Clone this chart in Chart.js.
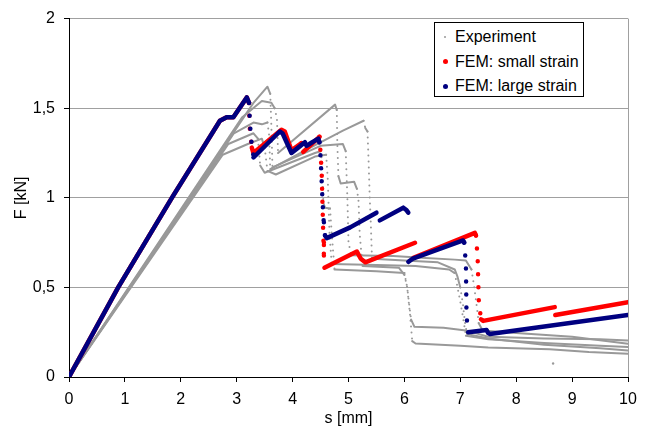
<!DOCTYPE html>
<html>
<head>
<meta charset="utf-8">
<title>F-s curve</title>
<script src="https://cdn.jsdelivr.net/npm/chart.js@4.4.1/dist/chart.umd.min.js"></script>
<style>
  body { margin: 0; background: #fff; font-family: "Liberation Sans", Arial, sans-serif; }
  #wrap { position: relative; width: 648px; height: 430px; }
  #legend { position: absolute; left: 434px; top: 22px; width: 150px; height: 75px; box-sizing: border-box;
            border: 1px solid #000; background: #fff; }
  .item { position: absolute; left: 0; height: 20px; line-height: 20px; font-size: 16px; color: #000; white-space: nowrap; }
  .item .mark { position: absolute; border-radius: 50%; }
  .item .txt { position: absolute; left: 20px; top: 0; }
</style>
</head>
<body>
<div id="wrap">
  <canvas id="chart" width="648" height="430"></canvas>
  <div id="legend"></div>
</div>
<script>
// axis ticks
const xTicks = [0, 1, 2, 3, 4, 5, 6, 7, 8, 9, 10];
const xTickLabels = ['0', '1', '2', '3', '4', '5', '6', '7', '8', '9', '10'];
const yTicks = [0, 0.5, 1, 1.5, 2];
const yTickLabels = ['0', '0,5', '1', '1,5', '2'];

// experiment specimens [s mm, F kN], null = gap
const expA = [[0,0],[3.3,1.53],[3.55,1.62],[3.6,1.58],[3.62,1.4],[3.64,1.17],[4.5,1.29],[4.9,1.3],[4.95,1.26],
  [4.98,1.0],[5.0,0.75],[5.05,0.68],[5.8,0.675],[6.3,0.665],[6.9,0.655],[7.1,0.65],[7.2,0.6],[7.25,0.5],
  [7.3,0.38],[7.33,0.3],[7.4,0.26],[8.0,0.245],[9.0,0.225],[10,0.185]];
const expB = [[0,0],[3.1,1.45],[3.45,1.54],[3.62,1.53],[3.68,1.5],[3.72,1.44],[3.74,1.25],[4.76,1.52],[4.79,1.49],
  [4.8,1.3],[4.82,1.12],[4.86,1.08],[5.1,1.09],[5.15,1.05],[5.18,0.98],[5.2,0.8],[5.25,0.62],[5.9,0.61],[6.0,0.57],
  [6.05,0.5],[6.08,0.42],[6.12,0.32],[6.18,0.28],[6.7,0.275],[7.1,0.26],[7.5,0.225],[8.5,0.215],[9.5,0.21],[10,0.203]];
const expC = [[0,0],[2.95,1.36],[3.3,1.42],[3.45,1.41],[3.55,1.42],[3.58,1.35],[3.6,1.16],[4.2,1.26],[4.9,1.375],
  [5.27,1.43],[5.3,1.39],[5.34,1.37],[5.36,1.2],[5.38,1.0],[5.4,0.85],[5.42,0.66],[6.0,0.65],[6.6,0.64],[6.9,0.6],
  [6.95,0.56],[7.0,0.5],[7.05,0.4],[7.08,0.31],[7.12,0.24],[7.5,0.215],[8.5,0.18],[9.5,0.16],[10,0.148]];
const expD = [[0,0],[2.85,1.3],[3.3,1.36],[3.38,1.33],[3.42,1.18],[3.5,1.14],[4.4,1.25],[4.5,1.26],[4.53,1.2],
  [4.55,0.97],[4.58,0.945],[4.67,0.94],[4.7,0.8],[4.75,0.6],[5.5,0.59],[6.0,0.58],[6.05,0.5],[6.1,0.35],[6.14,0.2],
  [6.2,0.187],[7.0,0.175],[7.5,0.165],[8.6,0.155],[9.3,0.14],[10,0.13]];
const expE = [[0,0],[2.75,1.24],[3.2,1.3],[3.45,1.33],[3.5,1.28],[3.55,1.15],[3.7,1.13],[4.4,1.23],[4.6,1.24],
  [4.63,1.1],[4.66,0.8],[4.7,0.63],[5.5,0.625],[6.2,0.62],[6.8,0.6],[6.9,0.58],[6.95,0.5],[7.0,0.42],[7.05,0.33],
  [7.1,0.23],[7.5,0.21],[8.5,0.19],[9.5,0.175],[10,0.167]];
const expStray = [[8.66,0.075]];

// FEM small strain
const femSmall = [[0,0],[0.88,0.5],[1.84,1.0],[2.7,1.43],[2.82,1.45],[2.94,1.45],[3.18,1.56],[3.22,1.53],
  [3.23,1.4],[3.27,1.28],[3.3,1.25],[3.8,1.38],[3.86,1.37],[3.98,1.265],[4.16,1.305],[4.19,1.256],[4.48,1.34],
  [4.5,1.25],[4.52,1.14],[4.55,0.78],[4.56,0.676],[4.57,0.61],[5.15,0.7],[5.22,0.66],[5.3,0.64],[6.19,0.749],null,
  [6.16,0.665],[7.26,0.804],[7.28,0.79],[7.31,0.666],[7.33,0.43],[7.37,0.322],[7.41,0.313],[8.69,0.39],null,
  [8.7,0.346],[10,0.418]];

// FEM large strain
const femLarge = [[0,0],[0.88,0.5],[1.84,1.0],[2.7,1.43],[2.82,1.45],[2.94,1.45],[3.18,1.56],[3.22,1.53],
  [3.24,1.4],[3.27,1.29],[3.29,1.265],[3.3,1.225],[3.77,1.37],[3.82,1.36],[3.98,1.25],[4.1,1.28],[4.22,1.31],
  [4.25,1.29],[4.3,1.3],[4.46,1.33],[4.48,1.31],[4.5,1.23],[4.53,1.02],[4.55,0.89],[4.56,0.86],[4.58,0.79],
  [4.61,0.775],[5.03,0.835],[5.5,0.917],null,[5.56,0.874],[5.98,0.945],[6.04,0.93],[6.07,0.917],null,
  [6.07,0.643],[6.15,0.66],[7.05,0.762],[7.07,0.75],[7.1,0.63],[7.11,0.37],[7.12,0.31],[7.14,0.25],[7.47,0.262],
  [7.5,0.245],[7.53,0.24],[10,0.346]];

const GRAY = '#999999';
const RED = '#ff0000';
const BLUE = '#000080';

// near vertical parts are drawn as loose dots, like the measured drops
function steep(ctx) {
  const dx = Math.abs(ctx.p1.x - ctx.p0.x);
  const dy = Math.abs(ctx.p1.y - ctx.p0.y);
  return dy > 4 * dx;
}

function toPoints(arr) {
  return arr.map(p => p ? { x: p[0], y: p[1] } : { x: NaN, y: null });
}

function lineSet(label, arr, color, width, gap, order) {
  return {
    label, order,
    data: toPoints(arr),
    showLine: true,
    spanGaps: false,
    borderColor: color,
    backgroundColor: color,
    borderWidth: width,
    borderCapStyle: 'round',
    borderJoinStyle: 'round',
    pointRadius: 0,
    pointHoverRadius: 0,
    segment: { borderDash: ctx => steep(ctx) ? [0, gap] : undefined }
  };
}

const datasets = [
  ...[expA, expB, expC, expD, expE].map(a => lineSet('Experiment', a, GRAY, 2, 6, 3)),
  { label: 'Experiment', order: 3, data: toPoints(expStray), showLine: false,
    pointRadius: 1.2, borderWidth: 0, backgroundColor: GRAY },
  lineSet('FEM: small strain', femSmall, RED, 4.5, 13, 2),
  lineSet('FEM: large strain', femLarge, BLUE, 4.5, 13, 1)
];

const legendItems = [
  { label: 'Experiment', color: GRAY, size: 2 },
  { label: 'FEM: small strain', color: RED, size: 5 },
  { label: 'FEM: large strain', color: BLUE, size: 5 }
];

function buildLegend() {
  const box = document.getElementById('legend');
  legendItems.forEach((it, i) => {
    const row = document.createElement('div');
    row.className = 'item';
    row.style.top = (4 + i * 24.5) + 'px';
    const c = 10 - it.size / 2;
    row.innerHTML = `<span class="mark" style="left:${c}px;top:${10 - it.size / 2}px;width:${it.size}px;height:${it.size}px;background:${it.color}"></span>
      <span class="txt">${it.label}</span>`;
    box.appendChild(row);
  });
}

const font = { family: '"Liberation Sans", Arial, sans-serif', size: 16 };

new Chart(document.getElementById('chart'), {
  type: 'scatter',
  data: { datasets },
  options: {
    responsive: false,
    devicePixelRatio: 1,
    animation: false,
    layout: { padding: { left: 0, top: 13, right: 20, bottom: 0 } },
    plugins: { legend: { display: false }, tooltip: { enabled: false } },
    scales: {
      x: {
        type: 'linear', min: 0, max: 10,
        afterBuildTicks: s => { s.ticks = xTicks.map(v => ({ value: v })); },
        afterFit: s => { s.height = 53; },
        ticks: { color: '#000', font, padding: 8, maxRotation: 0, callback: (v, i) => xTickLabels[i] },
        grid: {
          color: ctx => ctx.tick && ctx.tick.value === 10 ? '#a0a0a0' : 'rgba(0,0,0,0)',
          tickColor: '#000', tickLength: 5
        },
        border: { color: '#000', width: 1 },
        title: { display: true, text: 's [mm]', color: '#000', font, padding: { top: 0, bottom: 2 } }
      },
      y: {
        type: 'linear', min: 0, max: 2,
        afterBuildTicks: s => { s.ticks = yTicks.map(v => ({ value: v })); },
        afterFit: s => { s.width = 69; },
        ticks: { color: '#000', font, padding: 9, callback: (v, i) => yTickLabels[i] },
        grid: {
          color: ctx => ctx.tick && ctx.tick.value === 0 ? 'rgba(0,0,0,0)' : '#a0a0a0',
          tickColor: '#000', tickLength: 5
        },
        border: { color: '#000', width: 1 },
        title: { display: true, text: 'F [kN]', color: '#000', font, padding: { top: 12, bottom: 0 } }
      }
    }
  }
});

buildLegend();
</script>
</body>
</html>
